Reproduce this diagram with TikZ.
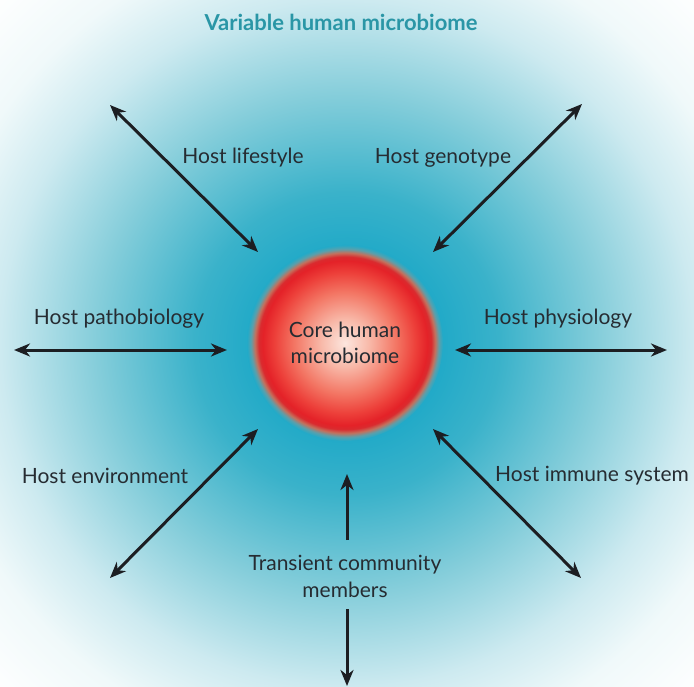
\documentclass[tikz,border=0pt]{standalone}
\usepackage{fontspec}
\setmainfont{Lato}
\usetikzlibrary{arrows.meta}
\definecolor{bgA}{RGB}{34,170,200}
\definecolor{bgB}{RGB}{58,178,202}
\definecolor{bgC}{RGB}{132,205,218}
\definecolor{bgD}{RGB}{205,234,240}
\definecolor{bgE}{RGB}{240,249,250}
\definecolor{cA}{RGB}{252,230,222}
\definecolor{cB}{RGB}{248,186,170}
\definecolor{cC}{RGB}{243,118,100}
\definecolor{cD}{RGB}{237,64,58}
\definecolor{cE}{RGB}{228,34,40}
\definecolor{cF}{RGB}{218,42,46}
\definecolor{cG}{RGB}{196,112,92}
\definecolor{cH}{RGB}{90,160,172}
\definecolor{titlecol}{RGB}{42,150,166}
\definecolor{txt}{RGB}{38,44,50}
\definecolor{arrcol}{RGB}{28,30,34}
\pgfdeclareradialshading{bgshade}{\pgfpoint{0bp}{0bp}}{color(0bp)=(bgA); color(7bp)=(bgA); color(11bp)=(bgB); color(18bp)=(bgC); color(25bp)=(bgD); color(30bp)=(bgE); color(36bp)=(white); color(50bp)=(white)}
\pgfdeclareradialshading{coreshade}{\pgfpoint{0bp}{0bp}}{color(0bp)=(cA); color(6bp)=(cB); color(13bp)=(cC); color(18bp)=(cD); color(21bp)=(cE); color(22bp)=(cF); color(23bp)=(cG); color(24bp)=(cH); color(25bp)=(bgA); color(50bp)=(bgA)}
\tikzset{
  lbl/.style={text=txt, font=\fontsize{21}{27}\selectfont, inner sep=0pt},
  arr/.style={draw=arrcol, line width=3pt, {Stealth[length=16pt,width=13pt,inset=5pt]}-{Stealth[length=16pt,width=13pt,inset=5pt]}},
  onearr/.style={draw=arrcol, line width=3pt, -{Stealth[length=16pt,width=13pt,inset=5pt]}},
}
\begin{document}
\begin{tikzpicture}[x=1pt,y=-1pt]
\shade[shading=bgshade] (0,0) rectangle (694,687);
\useasboundingbox (0,0) rectangle (694,687);
\node[font=\fontsize{22}{24}\selectfont\bfseries, text=titlecol, inner sep=0pt] (title) at (341,22) {Variable human microbiome};
\node[circle, minimum size=196pt, inner sep=0pt, shading=coreshade, align=center, text=txt, font=\fontsize{21}{26}\selectfont] (core) at (345,343) {Core human\\microbiome};
% arrow ends
\coordinate (lsA) at (110,105); \coordinate (lsB) at (258,252);
\coordinate (gnA) at (582,104); \coordinate (gnB) at (433,252);
\coordinate (paA) at (14,350); \coordinate (paB) at (227,350);
\coordinate (phA) at (455,350); \coordinate (phB) at (667,350);
\coordinate (enA) at (258,429); \coordinate (enB) at (110,578);
\coordinate (imA) at (433,429); \coordinate (imB) at (581,578);
\coordinate (trA) at (347,540); \coordinate (trB) at (347,474);
\coordinate (trC) at (347,609); \coordinate (trD) at (347,686);
\draw[arr] (lsA) -- (lsB);
\draw[arr] (gnA) -- (gnB);
\draw[arr] (paA) -- (paB);
\draw[arr] (phA) -- (phB);
\draw[arr] (enA) -- (enB);
\draw[arr] (imA) -- (imB);
\draw[onearr] (trA) -- (trB);
\draw[onearr] (trC) -- (trD);
\node[lbl] (lifestyle) at (243,158) {Host lifestyle};
\node[lbl] (genotype) at (443,158) {Host genotype};
\node[lbl] (patho) at (119,319) {Host pathobiology};
\node[lbl] (physio) at (558,319) {Host physiology};
\node[lbl] (env) at (105,476) {Host environment};
\node[lbl] (immune) at (592,476) {Host immune system};
\node[lbl, align=center] (transient) at (345,576) {Transient community\\members};
\end{tikzpicture}
\end{document}
